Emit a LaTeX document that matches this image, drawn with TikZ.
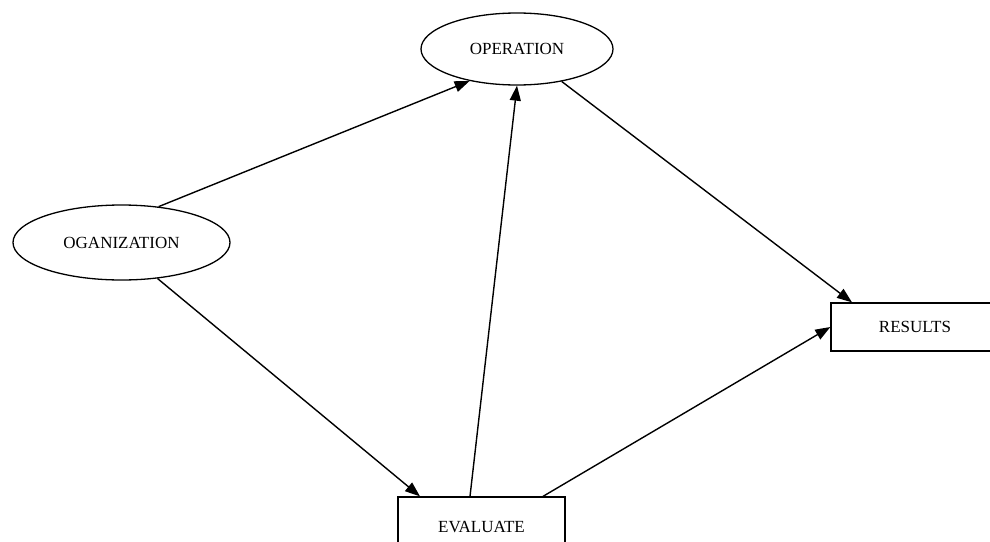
\documentclass[tikz,border=0pt]{standalone}
\usepackage{fontspec}
\setmainfont{Liberation Serif}
\usetikzlibrary{shapes.geometric,arrows.meta}
\begin{document}
\begin{tikzpicture}[x=1pt,y=-1pt,
  oval/.style={ellipse,draw,line width=1.3pt,inner sep=0pt,font=\fontsize{17}{20}\selectfont},
  box/.style={rectangle,draw,line width=1.3pt,inner sep=0pt,font=\fontsize{17}{20}\selectfont},
  arr/.style={line width=1.4pt,-{Triangle[length=15pt,width=11pt]}}]
\useasboundingbox (0,0) rectangle (990,541);
\clip (0,0) rectangle (990,541);
\node[oval,minimum width=192pt,minimum height=72pt] (op) at (517,49) {OPERATION};
\node[oval,minimum width=217pt,minimum height=75pt] (org) at (121.5,242.5) {OGANIZATION};
\node[box,minimum width=168pt,minimum height=48pt] (res) at (915,327) {RESULTS};
\node[box,minimum width=167pt,minimum height=60pt] (ev) at (481.5,527) {EVALUATE};
\draw[arr] (org.44) -- (op.214.8);
\draw[arr] (org.-45) -- ([xshift=-61.5pt]ev.north);
\draw[arr] ([xshift=-11.5pt]ev.north) -- (op.south);
\draw[arr] (op.-36) -- ([xshift=-63pt]res.north);
\draw[arr] ([xshift=61.5pt]ev.north) -- (res.west);
\end{tikzpicture}
\end{document}
